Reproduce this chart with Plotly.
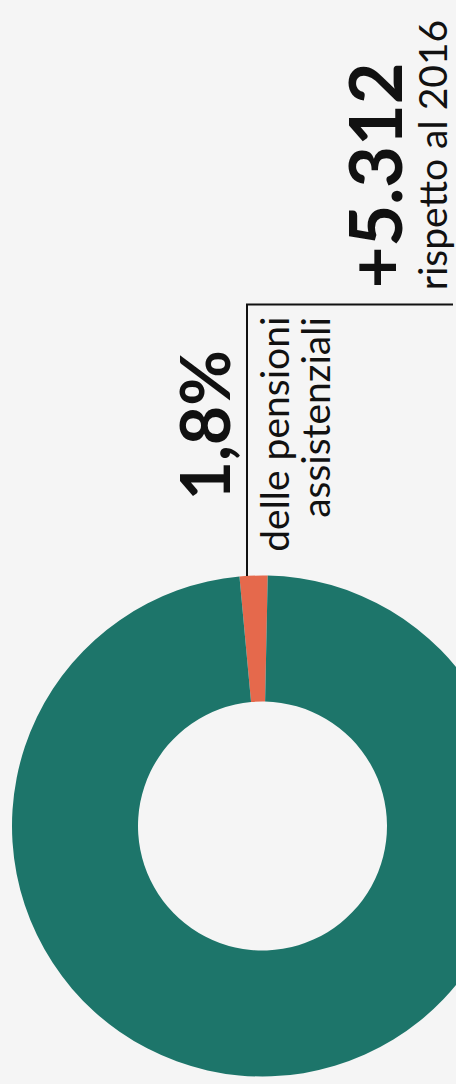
import plotly.graph_objects as go

# ---- data ----
labels = ["pensioni assistenziali", "altre pensioni"]
values = [1.8, 98.2]
colors = ["#e5694c", "#1d756a"]

big_value = "1,8%"
big_label_lines = ["delle pensioni", "assistenziali"]
delta_value = "+5.312"
delta_label = "rispetto al 2016"

# ---- geometry (pixels) ----
W, H = 540, 1084
BG = "#f5f5f5"
cx, cy, R = 262.5, 826.0, 250.5


def px(x):
    return x / W


def py(y):
    return 1 - y / H


fig = go.Figure()
fig.add_trace(go.Pie(
    labels=labels,
    values=values,
    marker=dict(colors=colors, line=dict(width=0)),
    hole=0.497,
    sort=False,
    direction="clockwise",
    rotation=-5.28,
    textinfo="none",
    hoverinfo="label+percent",
    showlegend=False,
    domain=dict(x=[px(cx - R), px(cx + R)], y=[py(cy + R), py(cy - R)]),
))

line_col = "#111111"
fig.add_shape(type="line", xref="paper", yref="paper",
              x0=px(247), x1=px(247), y0=py(304.5), y1=py(576),
              line=dict(color=line_col, width=2))
fig.add_shape(type="line", xref="paper", yref="paper",
              x0=px(246), x1=px(453), y0=py(304.5), y1=py(304.5),
              line=dict(color=line_col, width=2))


def vtext(text, x_base, y, yanchor, size, weight):
    # rotated text; x_base = baseline pixel column
    desc = 0.213 * size
    fig.add_annotation(
        text=text, textangle=-90, showarrow=False,
        xref="paper", yref="paper",
        x=px(x_base + desc), xanchor="right",
        y=py(y), yanchor=yanchor,
        borderpad=0, borderwidth=0,
        font=dict(family="Lato", size=size, color="#111111", weight=weight),
    )


vtext(big_value, 230, 500, "bottom", 68, 700)
vtext(big_label_lines[0], 288, 317, "top", 39, 400)
vtext(big_label_lines[1], 329, 317, "top", 39, 400)
vtext(delta_value, 402, 288, "bottom", 72, 700)
vtext(delta_label, 447, 290, "bottom", 39, 400)

fig.update_layout(
    width=W, height=H,
    margin=dict(l=0, r=0, t=0, b=0),
    paper_bgcolor=BG, plot_bgcolor=BG,
)

fig.write_html(
    "out.html",
    post_script=(
        "document.documentElement.style.margin='0';"
        "document.body.style.margin='0';"
        "document.body.style.overflow='hidden';"
        "document.documentElement.style.overflow='hidden';"
        "document.body.style.background='" + BG + "';"
    ),
)
